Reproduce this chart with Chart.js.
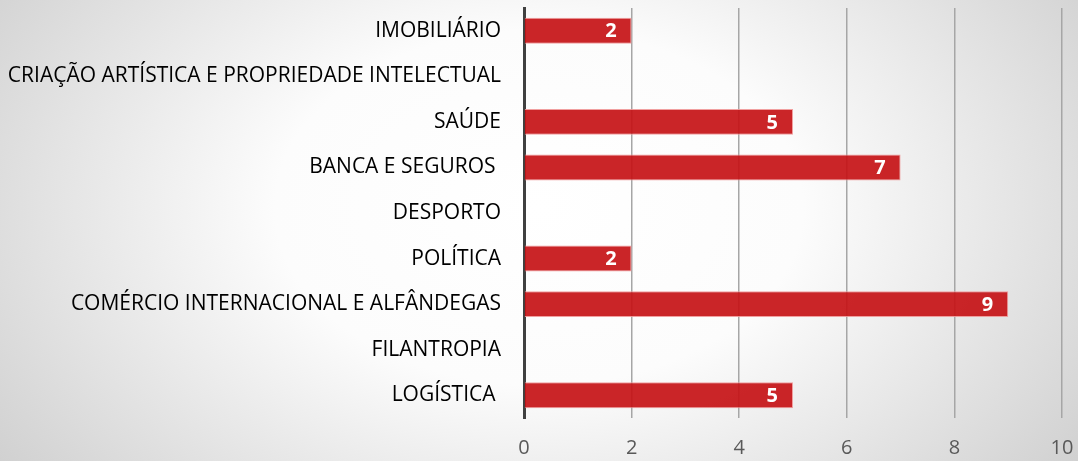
<!DOCTYPE html>
<html>
<head>
<meta charset="utf-8">
<script src="https://cdn.jsdelivr.net/npm/chart.js@4.4.1/dist/chart.umd.min.js"></script>
<style>
  html, body { margin: 0; padding: 0; }
  body {
    width: 1078px; height: 461px; overflow: hidden;
    background: radial-gradient(ellipse 70% 110% at 50% 45%, #ffffff 0%, #fcfcfc 35%, #c6c6c6 100%);
  }
  #wrap { position: relative; width: 1078px; height: 461px; }
</style>
</head>
<body>
<div id="wrap"><canvas id="chartSectores"></canvas></div>
<script>
// Sectores - valores
const categorias = [
  "IMOBILIÁRIO",
  "CRIAÇÃO ARTÍSTICA E PROPRIEDADE INTELECTUAL",
  "SAÚDE",
  "BANCA E SEGUROS ",
  "DESPORTO",
  "POLÍTICA",
  "COMÉRCIO INTERNACIONAL E ALFÂNDEGAS",
  "FILANTROPIA",
  "LOGÍSTICA "
];
const valores = [2, 0, 5, 7, 0, 2, 9, 0, 5];
const ticksX = [0, 2, 4, 6, 8, 10];

const FONTE = "'Open Sans', 'DejaVu Sans', sans-serif";

// etiquetas brancas dentro das barras
const etiquetasBarras = {
  id: "etiquetasBarras",
  afterDatasetsDraw(chart) {
    const ctx = chart.ctx;
    const meta = chart.getDatasetMeta(0);
    ctx.save();
    ctx.fillStyle = "#ffffff";
    ctx.font = "bold 20px " + FONTE;
    ctx.textAlign = "right";
    ctx.textBaseline = "middle";
    meta.data.forEach((bar, i) => {
      const v = valores[i];
      if (!v) return;
      ctx.fillText(String(v), bar.x - 15, bar.y + 1);
    });
    ctx.restore();
  }
};

new Chart(document.getElementById("chartSectores"), {
  type: "bar",
  data: {
    labels: categorias,
    datasets: [{
      data: valores,
      backgroundColor: "rgba(197,18,22,0.92)",
      borderColor: "rgba(240,150,150,0.9)",
      borderWidth: 1,
      borderSkipped: "left",
      categoryPercentage: 1,
      barPercentage: 0.57
    }]
  },
  options: {
    indexAxis: "y",
    responsive: true,
    maintainAspectRatio: false,
    animation: false,
    layout: { padding: { top: 8, right: 16, bottom: 2, left: 0 } },
    plugins: {
      legend: { display: false },
      tooltip: { enabled: false }
    },
    scales: {
      x: {
        min: 0,
        max: 10,
        afterBuildTicks(scale) {
          scale.ticks = ticksX.map(v => ({ value: v }));
        },
        afterFit(scale) {
          scale.height = 41;
          scale.paddingLeft = 0;
          scale.paddingRight = 0;
        },
        grid: { color: "#a6a6a6", lineWidth: 1.5, drawTicks: false },
        border: { display: false },
        ticks: {
          color: "#595959",
          padding: 18,
          font: { family: FONTE, size: 20 }
        }
      },
      y: {
        afterFit(scale) {
          scale.width = 524;
          scale.paddingTop = 0;
          scale.paddingBottom = 0;
        },
        grid: { display: false, drawTicks: false },
        border: { color: "#404040", width: 3 },
        ticks: {
          color: "#000000",
          padding: 23,
          font: { family: FONTE, size: 21 }
        }
      }
    }
  },
  plugins: [etiquetasBarras]
});
</script>
</body>
</html>
